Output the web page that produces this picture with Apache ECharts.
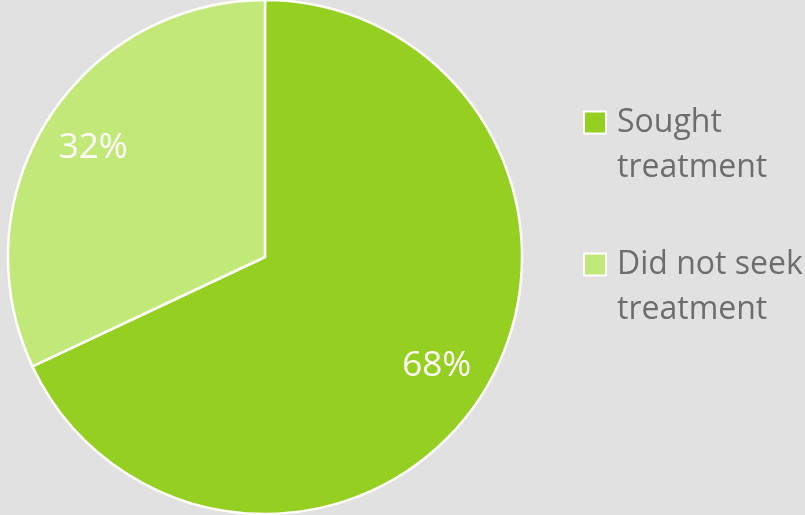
<!DOCTYPE html>
<html>
<head>
<meta charset="utf-8">
<script src="https://cdn.jsdelivr.net/npm/echarts@6/dist/echarts.min.js"></script>
<style>
  html, body { margin: 0; padding: 0; background: #e1e1e1; }
  #chart { width: 805px; height: 515px; }
</style>
</head>
<body>
<div id="chart"></div>
<script>
// Share of people who sought treatment
const categories = ['Sought\ntreatment', 'Did not seek\ntreatment'];
const shares = [68, 32];
const sliceColors = ['#95cf22', '#c3e87a'];

const pieData = categories.map((name, i) => ({
  name: name,
  value: shares[i],
  itemStyle: { color: sliceColors[i] }
}));

const chart = echarts.init(document.getElementById('chart'), null, { renderer: 'canvas' });

chart.setOption({
  backgroundColor: '#e1e1e1',
  animation: false,
  legend: {
    orient: 'vertical',
    left: 578,
    top: 50,
    itemWidth: 22,
    itemHeight: 22,
    itemGap: 7,
    icon: 'rect',
    itemStyle: { borderColor: '#ffffff', borderWidth: 2 },
    // a blank first line keeps the swatch level with the first line of the name
    formatter: name => '{t| }\n' + name.split('\n').map(s => '{t|' + s + '}').join('\n'),
    textStyle: {
      fontFamily: 'Open Sans',
      fontSize: 32,
      color: '#6d6d6d',
      lineHeight: 45,
      rich: {
        t: {
          fontFamily: 'Open Sans',
          fontSize: 32,
          color: '#6d6d6d',
          lineHeight: 45,
          padding: [0, 0, 0, 6]
        }
      }
    },
    data: categories
  },
  series: [
    {
      type: 'pie',
      center: [265, 257],
      radius: [0, 257],
      startAngle: 90,
      clockwise: true,
      label: { show: false },
      labelLine: { show: false },
      itemStyle: { borderColor: '#ffffff', borderWidth: 2.5 },
      emphasis: { disabled: true },
      data: pieData
    },
    {
      // label ring: places the percentages toward the rim of each slice
      type: 'pie',
      center: [265, 257],
      radius: [144, 257],
      startAngle: 90,
      clockwise: true,
      silent: true,
      legendHoverLink: false,
      itemStyle: { color: 'rgba(0,0,0,0)', borderWidth: 0 },
      label: {
        show: true,
        position: 'inside',
        formatter: p => p.value + '%',
        fontFamily: 'Open Sans',
        fontSize: 35,
        fontWeight: 'normal',
        color: '#ffffff'
      },
      labelLine: { show: false },
      emphasis: { disabled: true },
      data: categories.map((name, i) => ({ name: name, value: shares[i] }))
    }
  ]
});
</script>
</body>
</html>
